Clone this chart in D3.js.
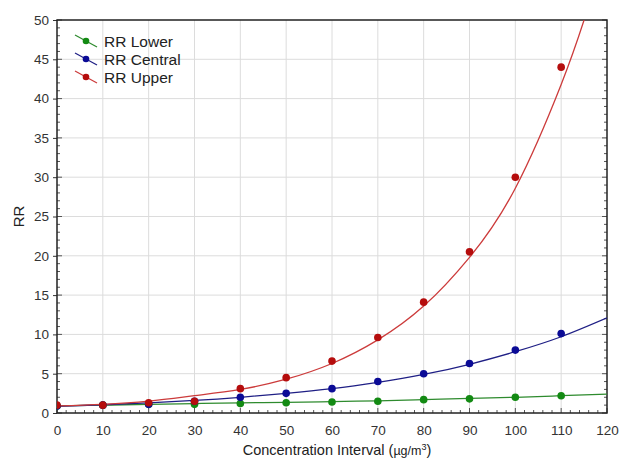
<!DOCTYPE html>
<html>
<head>
<meta charset="utf-8">
<script src="https://cdn.jsdelivr.net/npm/d3@7"></script>
<style>
  body { margin: 0; background: #fff; }
  svg { font-family: 'Liberation Sans', Arial, sans-serif; }
</style>
</head>
<body>
<div class="chart"></div>
<script>
// observed points
let xPoints = [0, 10, 20, 30, 40, 50, 60, 70, 80, 90, 100, 110];
let rrLower = [0.9, 1.0, 1.1, 1.1, 1.2, 1.3, 1.4, 1.5, 1.7, 1.8, 2.0, 2.2];
let rrCentral = [0.9, 1.0, 1.1, 1.5, 2.0, 2.5, 3.1, 4.0, 5.0, 6.3, 8.0, 10.1];
let rrUpper = [1.0, 1.0, 1.3, 1.5, 3.1, 4.5, 6.6, 9.6, 14.1, 20.5, 30.0, 44.0];

// fitted curves
let fitX = [0, 10, 20, 30, 40, 50, 60, 70, 80, 90, 100, 110, 120];
let fitLower = [0.9, 1.0, 1.1, 1.2, 1.3, 1.35, 1.45, 1.55, 1.7, 1.85, 2.0, 2.2, 2.4];
let fitCentral = [0.85, 1.05, 1.3, 1.6, 2.0, 2.5, 3.1, 3.9, 4.9, 6.2, 7.8, 9.7, 12.1];
let fitUpperX = [0, 10, 20, 30, 40, 50, 60, 70, 80, 90, 100, 110, 115];
let fitUpper = [0.9, 1.1, 1.5, 2.2, 3.0, 4.3, 6.3, 9.3, 13.6, 19.8, 28.6, 41.8, 50];

let xTicks = [0, 10, 20, 30, 40, 50, 60, 70, 80, 90, 100, 110, 120];
let yTicks = [0, 5, 10, 15, 20, 25, 30, 35, 40, 45, 50];

let series = [
  { name: 'RR Lower', pts: rrLower, fx: fitX, fit: fitLower, line: '#2e8b2e', dot: '#138a13' },
  { name: 'RR Central', pts: rrCentral, fx: fitX, fit: fitCentral, line: '#1f1f85', dot: '#0b0b96' },
  { name: 'RR Upper', pts: rrUpper, fx: fitUpperX, fit: fitUpper, line: '#cc3b3b', dot: '#b50d0d' }
];

var width = 619, height = 459;
var margin = { left: 57, right: 12, top: 20, bottom: 46 };

var x = d3.scaleLinear().domain([0, 120]).range([margin.left, width - margin.right]);
var y = d3.scaleLinear().domain([0, 50]).range([height - margin.bottom, margin.top]);

var svg = d3.select('.chart').append('svg')
  .attr('width', width)
  .attr('height', height);

var defs = svg.append('defs');
defs.append('clipPath').attr('id', 'plot')
  .append('rect')
  .attr('x', x(0)).attr('y', y(50))
  .attr('width', x(120) - x(0)).attr('height', y(0) - y(50));

// grid
svg.append('g').selectAll('line.vg')
  .data(xTicks.slice(1, -1)).enter().append('line')
  .attr('x1', d => x(d)).attr('x2', d => x(d))
  .attr('y1', y(0)).attr('y2', y(50))
  .attr('stroke', '#dcdcdc').attr('stroke-width', 1);
svg.append('g').selectAll('line.hg')
  .data(yTicks.slice(1, -1)).enter().append('line')
  .attr('x1', x(0)).attr('x2', x(120))
  .attr('y1', d => y(d)).attr('y2', d => y(d))
  .attr('stroke', '#dcdcdc').attr('stroke-width', 1);

// axes
var xAxis = d3.axisBottom(x).tickValues(xTicks).tickSize(0).tickPadding(12);
var yAxis = d3.axisLeft(y).tickValues(yTicks).tickSize(4).tickPadding(4);

var gx = svg.append('g').attr('transform', 'translate(0,' + y(0) + ')').call(xAxis);
var gy = svg.append('g').attr('transform', 'translate(' + x(0) + ',0)').call(yAxis);
[gx, gy].forEach(function(g) {
  g.select('.domain').remove();
  g.selectAll('text').attr('fill', '#333').style('font-size', '13.5px');
  g.selectAll('line').attr('stroke', '#333');
});

// minor ticks
var minorX = d3.range(0, 121, 2);
var minorY = d3.range(0, 51, 1);
svg.append('g').selectAll('line')
  .data(minorX).enter().append('line')
  .attr('x1', d => x(d)).attr('x2', d => x(d))
  .attr('y1', y(0)).attr('y2', d => y(0) - (d % 10 === 0 ? 5 : 3))
  .attr('stroke', '#555');
svg.append('g').selectAll('line')
  .data(minorY).enter().append('line')
  .attr('x1', x(0)).attr('x2', d => x(0) + (d % 5 === 0 ? 5 : 3))
  .attr('y1', d => y(d)).attr('y2', d => y(d))
  .attr('stroke', '#555');
svg.append('g').selectAll('line')
  .data(minorY).enter().append('line')
  .attr('x1', x(120)).attr('x2', d => x(120) - (d % 5 === 0 ? 5 : 3))
  .attr('y1', d => y(d)).attr('y2', d => y(d))
  .attr('stroke', '#555');

// frame
svg.append('rect')
  .attr('x', x(0)).attr('y', y(50))
  .attr('width', x(120) - x(0)).attr('height', y(0) - y(50))
  .attr('fill', 'none').attr('stroke', '#222').attr('stroke-width', 1.5);

var line = d3.line().curve(d3.curveNatural);

var plot = svg.append('g').attr('clip-path', 'url(#plot)');
series.forEach(function(s) {
  plot.append('path')
    .attr('d', line(s.fx.map((v, i) => [x(v), y(s.fit[i])])))
    .attr('fill', 'none')
    .attr('stroke', s.line)
    .attr('stroke-width', 1.3);
});
series.forEach(function(s) {
  plot.selectAll(null)
    .data(s.pts).enter().append('circle')
    .attr('cx', (d, i) => x(xPoints[i]))
    .attr('cy', d => y(d))
    .attr('r', 3.8)
    .attr('fill', s.dot);
});

// legend
var legend = svg.append('g').attr('transform', 'translate(75, 35)');
series.forEach(function(s, i) {
  var g = legend.append('g').attr('transform', 'translate(0,' + (i * 18) + ')');
  g.append('line')
    .attr('x1', 0).attr('y1', 0).attr('x2', 22).attr('y2', 12)
    .attr('stroke', s.line).attr('stroke-width', 1.2);
  g.append('circle').attr('cx', 11).attr('cy', 6).attr('r', 3.3).attr('fill', s.dot);
  g.append('text').attr('x', 29).attr('y', 11.5)
    .attr('fill', '#222').style('font-size', '15.5px')
    .text(s.name);
});

// axis titles
var xt = svg.append('text')
  .attr('x', (x(0) + x(120)) / 2 + 5).attr('y', 455)
  .attr('text-anchor', 'middle')
  .attr('fill', '#222').style('font-size', '14.5px');
xt.append('tspan').text('Concentration Interval (');
xt.append('tspan').style('font-size', '12.5px').text('µg/m');
xt.append('tspan').style('font-size', '9px').attr('dy', -5).text('3');
xt.append('tspan').attr('dy', 5).text(')');

svg.append('text')
  .attr('transform', 'translate(24,' + ((y(0) + y(50)) / 2) + ') rotate(-90)')
  .attr('text-anchor', 'middle')
  .attr('fill', '#222').style('font-size', '15px')
  .text('RR');
</script>
</body>
</html>
